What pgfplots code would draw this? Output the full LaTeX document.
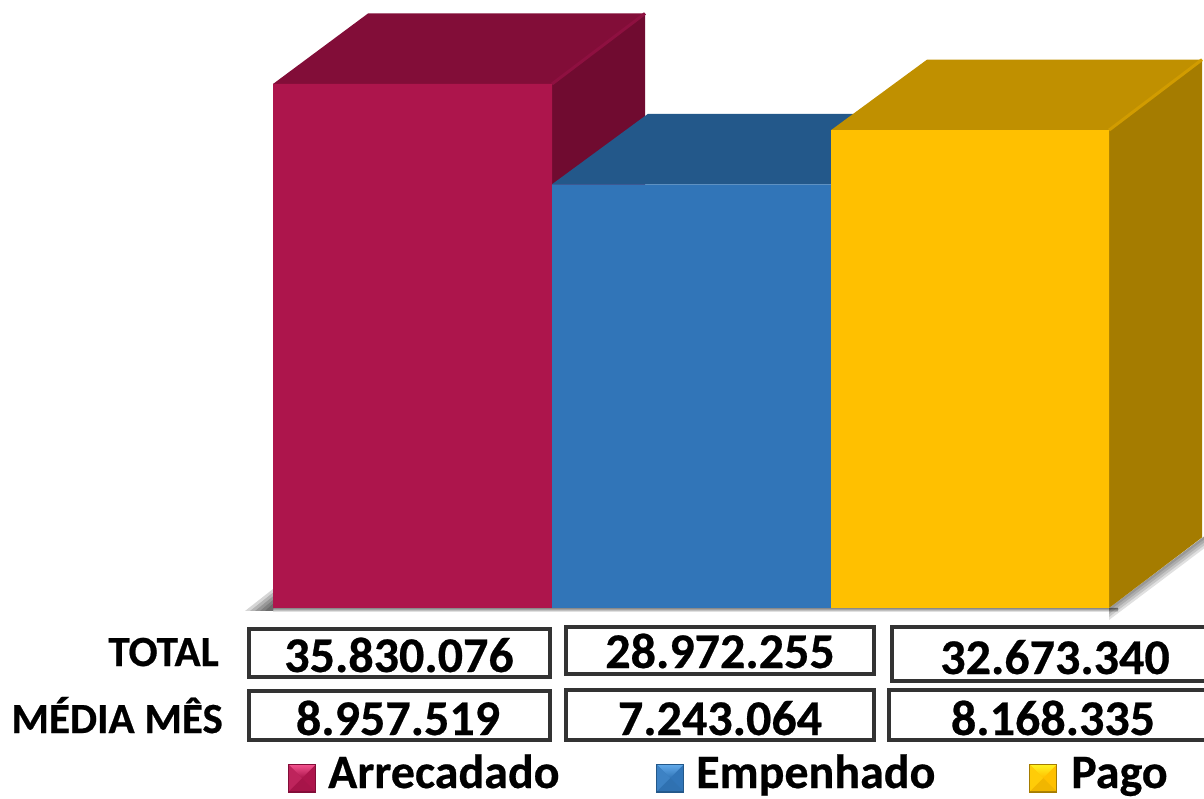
\documentclass[border=0pt]{standalone}
\usepackage{pgfplots}
\pgfplotsset{compat=1.18}
\usepackage{fontspec}
\setmainfont{Carlito}[BoldFeatures={FakeBold=0.5}]
\definecolor{redF}{HTML}{AD154C}
\definecolor{redT}{HTML}{820D38}
\definecolor{redS}{HTML}{700B30}
\definecolor{redL}{HTML}{8E1040}
\definecolor{redK}{HTML}{F0508C}
\definecolor{bluF}{HTML}{3175B8}
\definecolor{bluT}{HTML}{23588A}
\definecolor{bluK}{HTML}{60A8E8}
\definecolor{yelF}{HTML}{FFC000}
\definecolor{yelT}{HTML}{C09000}
\definecolor{yelS}{HTML}{A57C00}
\definecolor{yelL}{HTML}{D19C00}
\definecolor{yelK}{HTML}{FFF020}
\definecolor{boxc}{HTML}{333333}
\newcommand{\valf}{\fontsize{50}{50}\selectfont\bfseries}
\newcommand{\sidef}{\fontsize{43}{43}\selectfont\bfseries}
\newcommand{\legf}{\fontsize{48}{48}\selectfont\bfseries}
% legend key, a little pyramid: x, then light, base and dark colours
\newcommand{\legkey}[4]{%
  \fill[#4] (axis cs:#1,764) rectangle (axis cs:#1+28,793);
  \fill[#3] (axis cs:#1+1,765) rectangle (axis cs:#1+27,791);
  \shade[top color=#2,bottom color=#3] (axis cs:#1+1,765) -- (axis cs:#1+27,765) -- (axis cs:#1+14,778) -- cycle;
  \fill[#3!85!#4] (axis cs:#1+1,791) -- (axis cs:#1+27,791) -- (axis cs:#1+14,778) -- cycle;
  \fill[#3!75!#2] (axis cs:#1+1,765) -- (axis cs:#1+14,778) -- (axis cs:#1+1,791) -- cycle;
}
\newcommand{\bx}[4]{\draw[boxc,line width=4pt] (axis cs:#1,#3) rectangle (axis cs:#2,#4);}
\begin{document}
\begin{tikzpicture}
\useasboundingbox (0,0) rectangle (1204pt,799pt);
% bars: y is in the chart's own units, baseline at 0
\begin{axis}[
    at={(0,0)},anchor=south west,
    scale only axis,width=1204pt,height=799pt,
    xmin=0,xmax=1204,ymin=-13060198,ymax=41573824,
    hide axis,clip=false,
  ]
  % floor shadow, stacked to look blurred
  \addplot[draw=none,fill=black,fill opacity=.16] coordinates {(245,-205000) (273,1300000) (273,-205000) (245,-205000)};
  \addplot[draw=none,fill=black,fill opacity=.16] coordinates {(250,-205000) (273,1050000) (273,-205000) (250,-205000)};
  \addplot[draw=none,fill=black,fill opacity=.16] coordinates {(255,-205000) (273,800000) (273,-205000) (255,-205000)};
  \addplot[draw=none,fill=black,fill opacity=.16] coordinates {(260,-205000) (273,550000) (273,-205000) (260,-205000)};
  \addplot[draw=none,fill=black,fill opacity=.16] coordinates {(265,-205000) (273,300000) (273,-205000) (265,-205000)};
  \addplot[draw=none,fill=black,fill opacity=.15] coordinates {(273,0) (1118,0) (1118,-68378) (273,-68378) (273,0)};
  \addplot[draw=none,fill=black,fill opacity=.15] coordinates {(273,0) (1118,0) (1118,-136756) (273,-136756) (273,0)};
  \addplot[draw=none,fill=black,fill opacity=.15] coordinates {(273,0) (1118,0) (1118,-205134) (273,-205134) (273,0)};
  \addplot[draw=none,fill=black,fill opacity=.12] coordinates {(273,0) (1118,0) (1118,-273512) (273,-273512) (273,0)};
  \addplot[draw=none,fill=black,fill opacity=.12] coordinates {(1109,-820536) (1204,4067000) (1204,4888000) (1109,0) (1109,-820536)};
  \addplot[draw=none,fill=black,fill opacity=.12] coordinates {(1109,-615402) (1204,4272000) (1204,4888000) (1109,0) (1109,-615402)};
  \addplot[draw=none,fill=black,fill opacity=.12] coordinates {(1109,-410268) (1204,4478000) (1204,4888000) (1109,0) (1109,-410268)};
  \addplot[draw=none,fill=black,fill opacity=.12] coordinates {(1109,-205134) (1204,4683000) (1204,4888000) (1109,0) (1109,-205134)};

  % Arrecadado
  \addplot[draw=none,fill=redT] coordinates {(273,35830076) (368,40650725) (645,40650725) (552,35830076) (273,35830076)};
  \addplot[draw=none,fill=redS] coordinates {(552,0) (645,4820649) (645,40650725) (552,35830076) (552,0)};
  \addplot[redL,line width=3pt] coordinates {(552,35830076) (645,40650725)};
  \addplot[draw=none,fill=redF] coordinates {(273,0) (552,0) (552,35830076) (273,35830076) (273,0)};

  % Empenhado
  \addplot[draw=none,fill=bluT] coordinates {(552,28972255) (648,33792904) (924,33792904) (831,28972255) (552,28972255)};
  \addplot[draw=none,fill=bluF] coordinates {(552,0) (831,0) (831,28972255) (552,28972255) (552,0)};

  % Pago
  \addplot[draw=none,fill=yelT] coordinates {(831,32673340) (927,37493989) (1202,37493989) (1109,32673340) (831,32673340)};
  \addplot[draw=none,fill=yelS] coordinates {(1109,0) (1202,4820649) (1202,37493989) (1109,32673340) (1109,0)};
  \addplot[yelL,line width=3pt] coordinates {(1109,32673340) (1202,37493989)};
  \addplot[draw=none,fill=yelF] coordinates {(831,0) (1109,0) (1109,32673340) (831,32673340) (831,0)};
\end{axis}
% table and legend: y in pixels from the top
\begin{axis}[
    at={(0,0)},anchor=south west,
    scale only axis,width=1204pt,height=799pt,
    xmin=0,xmax=1204,ymin=0,ymax=799,y dir=reverse,
    hide axis,clip=false,
  ]
  \bx{249}{550}{629}{677}
  \bx{249}{550}{691}{740}
  \bx{566}{874}{627}{674}
  \bx{566}{874}{690}{740}
  \bx{892}{1215}{627}{681}
  \bx{889}{1215}{690}{740}

  \node[anchor=base east,inner sep=0pt] at (axis cs:219,666) {\sidef TOTAL};
  \node[anchor=base east,inner sep=0pt] at (axis cs:223,733) {\sidef MÉDIA MÊS};

  \node[anchor=base,inner sep=0pt] at (axis cs:399,672) {\valf 35.830.076};
  \node[anchor=base,inner sep=0pt] at (axis cs:720,668) {\valf 28.972.255};
  \node[anchor=base,inner sep=0pt] at (axis cs:1055,674) {\valf 32.673.340};
  \node[anchor=base,inner sep=0pt] at (axis cs:398,735) {\valf 8.957.519};
  \node[anchor=base,inner sep=0pt] at (axis cs:720,735) {\valf 7.243.064};
  \node[anchor=base,inner sep=0pt] at (axis cs:1053,735) {\valf 8.168.335};

  \legkey{288}{redK}{redF}{redT}
  \legkey{656}{bluK}{bluF}{bluT}
  \legkey{1029}{yelK}{yelF}{yelS}
  \node[anchor=base west,inner sep=0pt] at (axis cs:328,788) {\legf Arrecadado};
  \node[anchor=base west,inner sep=0pt] at (axis cs:696,788) {\legf Empenhado};
  \node[anchor=base west,inner sep=0pt] at (axis cs:1071,788) {\legf Pago};
\end{axis}
\end{tikzpicture}
\end{document}
